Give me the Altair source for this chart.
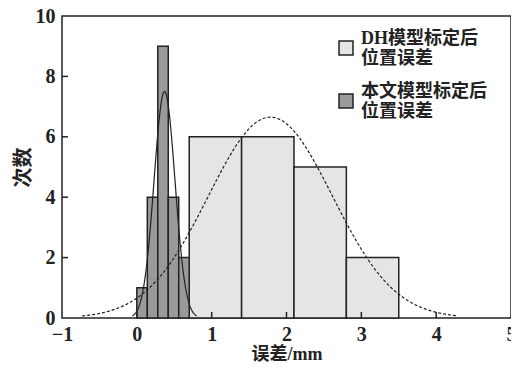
import altair as alt
import pandas as pd

# ---- data ----
series = ["DH模型标定后位置误差", "本文模型标定后位置误差"]

dh_bin_start = [0.70, 1.40, 2.10, 2.80]
dh_bin_end = [1.40, 2.10, 2.80, 3.50]
dh_counts = [6, 6, 5, 2]

ours_bin_start = [0.00, 0.14, 0.28, 0.42, 0.56]
ours_bin_end = [0.14, 0.28, 0.42, 0.56, 0.70]
ours_counts = [1, 4, 9, 4, 2]

# fitted normal curves: mean, std-dev, peak height, drawn x-range
dh_fit = {"mu": 1.785, "sigma": 0.83, "peak": 6.65, "start": -0.73, "stop": 4.29}
ours_fit = {"mu": 0.37, "sigma": 0.14, "peak": 7.5, "start": -0.06, "stop": 0.80}

x_tick_values = [-1, 0, 1, 2, 3, 4, 5]
y_tick_values = [0, 2, 4, 6, 8, 10]
x_inner_ticks = [0, 1, 2, 3, 4]
y_inner_ticks = [2, 4, 6, 8]

x_title = "误差/mm"
y_title = "次数"

# ---- styling ----
W, H = 449, 302
FONT = "Liberation Serif, Noto Sans CJK SC"
INK = "#222222"
LIGHT = "#e5e5e5"
DARK = "#9a9a9a"

bars_df = pd.DataFrame({
    "x": dh_bin_start + ours_bin_start,
    "x2": dh_bin_end + ours_bin_end,
    "y": dh_counts + ours_counts,
    "series": [series[0]] * len(dh_counts) + [series[1]] * len(ours_counts),
})

x_axis = alt.Axis(values=x_tick_values, labelFont=FONT, labelFontSize=20,
                  labelFontWeight="bold", labelColor=INK, labelPadding=6,
                  titleFont=FONT, titleFontSize=18, titleFontWeight="bold",
                  titleColor=INK, titlePadding=1, labelFlush=False)
y_axis = alt.Axis(values=y_tick_values, labelFont=FONT, labelFontSize=20,
                  labelFontWeight="bold", labelColor=INK, labelPadding=7,
                  titleFont=FONT, titleFontSize=20, titleFontWeight="bold",
                  titleColor=INK, titlePadding=2, labelFlush=False)
x_scale = alt.Scale(domain=[-1, 5], nice=False, zero=False)
y_scale = alt.Scale(domain=[0, 10], nice=False)


def X(field="x"):
    return alt.X(f"{field}:Q", scale=x_scale, axis=x_axis, title=x_title)


def Y(field="y"):
    return alt.Y(f"{field}:Q", scale=y_scale, axis=y_axis, title=y_title)


bars = alt.Chart(bars_df).mark_rect(stroke=INK, strokeWidth=1.5, opacity=1).encode(
    x=X(), x2="x2:Q", y=Y(), y2=alt.datum(0),
    color=alt.Color("series:N", scale=alt.Scale(domain=series, range=[LIGHT, DARK]),
                    legend=alt.Legend(
                        orient="none", legendX=275, legendY=23, title=None,
                        symbolType="square", symbolSize=196,
                        symbolStrokeColor=INK, symbolStrokeWidth=1.5,
                        labelFont=FONT, labelFontSize=18, labelFontWeight="bold",
                        labelColor=INK, labelLimit=240, labelOffset=6,
                        labelBaseline="bottom", rowPadding=15,
                        labelExpr="[slice(datum.label, 0, -4), slice(datum.label, -4)]",
                    )),
)


def curve(fit, dash):
    kw = dict(color=INK, strokeWidth=1.2)
    if dash:
        kw["strokeDash"] = [3, 2]
    return alt.Chart(alt.sequence(fit["start"], fit["stop"] + 0.001, 0.01, as_="x")).transform_calculate(
        y=f"{fit['peak']}*exp(-0.5*pow((datum.x-{fit['mu']})/{fit['sigma']},2))"
    ).mark_line(**kw).encode(x=X(), y=Y())


x_ticks = alt.Chart(pd.DataFrame({"x": x_inner_ticks})).mark_rule(
    color=INK, strokeWidth=1.5).encode(x=X(), y=alt.value(H), y2=alt.value(H - 6))
y_ticks = alt.Chart(pd.DataFrame({"y": y_inner_ticks})).mark_rule(
    color=INK, strokeWidth=1.5).encode(y=Y(), x=alt.value(0), x2=alt.value(6))

chart = alt.layer(
    bars, curve(dh_fit, True), curve(ours_fit, False), x_ticks, y_ticks
).properties(
    width=W, height=H,
    autosize=alt.AutoSizeParams(type="none"),
    padding={"left": 54, "top": 8, "right": 0, "bottom": 44},
).configure_view(
    stroke=INK, strokeWidth=1.5
).configure_axis(
    grid=False, domain=False, ticks=False
)

chart.save("out.html", embed_options={"renderer": "svg", "actions": False})
